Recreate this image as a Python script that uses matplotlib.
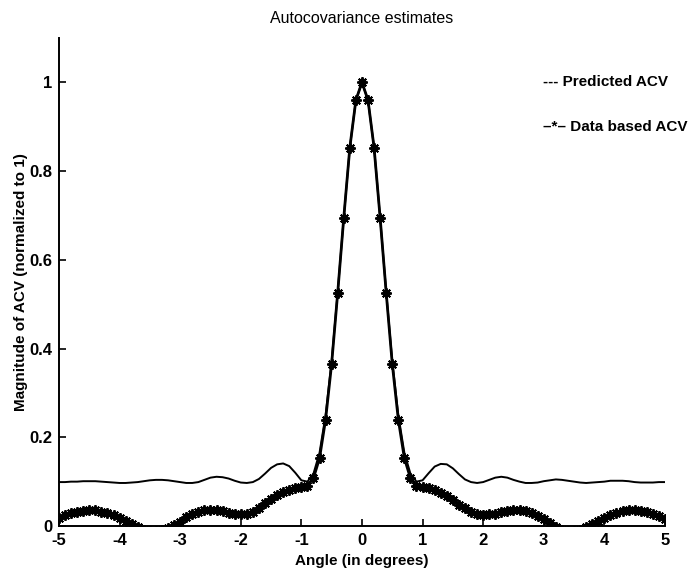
import numpy as np
import matplotlib.pyplot as plt

plt.rcParams['font.family'] = ['Liberation Sans', 'DejaVu Sans']

# angle grid (degrees), 0.1 deg spacing
angle = np.round(np.arange(-50, 51) * 0.1, 1)

predicted_acv = [
    0.099, 0.099, 0.100, 0.100, 0.101, 0.101, 0.101, 0.100, 0.099, 0.098,
    0.097, 0.097, 0.098, 0.099, 0.101, 0.103, 0.104, 0.104, 0.103, 0.101,
    0.099, 0.097, 0.097, 0.099, 0.104, 0.109, 0.111, 0.110, 0.107, 0.102,
    0.098, 0.097, 0.099, 0.106, 0.118, 0.131, 0.139, 0.141, 0.135, 0.120,
    0.103, 0.100, 0.118, 0.165, 0.250, 0.372, 0.528, 0.695, 0.853, 0.960,
    1.000,
    0.960, 0.853, 0.695, 0.528, 0.372, 0.250, 0.165, 0.118, 0.100, 0.103,
    0.119, 0.134, 0.140, 0.139, 0.130, 0.117, 0.105, 0.099, 0.097, 0.099,
    0.104, 0.109, 0.111, 0.109, 0.104, 0.100, 0.097, 0.097, 0.098, 0.101,
    0.103, 0.105, 0.104, 0.102, 0.100, 0.098, 0.097, 0.098, 0.099, 0.100,
    0.102, 0.102, 0.102, 0.101, 0.099, 0.098, 0.098, 0.098, 0.099, 0.099,
]

data_acv = [
    0.018, 0.024, 0.029, 0.032, 0.034, 0.035, 0.035, 0.032, 0.029, 0.024,
    0.018, 0.011, 0.004, -0.003, -0.009, -0.012, -0.012, -0.009, -0.004, 0.002,
    0.010, 0.020, 0.027, 0.032, 0.035, 0.036, 0.035, 0.033, 0.030, 0.028,
    0.026, 0.027, 0.031, 0.040, 0.051, 0.061, 0.070, 0.077, 0.082, 0.086,
    0.087, 0.090, 0.108, 0.153, 0.240, 0.366, 0.526, 0.695, 0.853, 0.960,
    1.000,
    0.960, 0.853, 0.695, 0.526, 0.366, 0.240, 0.153, 0.108, 0.090, 0.088,
    0.086, 0.082, 0.075, 0.067, 0.058, 0.048, 0.040, 0.032, 0.027, 0.025,
    0.026, 0.028, 0.031, 0.034, 0.035, 0.035, 0.033, 0.029, 0.023, 0.015,
    0.006, -0.003, -0.009, -0.012, -0.012, -0.008, -0.002, 0.005, 0.012, 0.019,
    0.025, 0.030, 0.033, 0.035, 0.035, 0.034, 0.031, 0.027, 0.022, 0.016,
]

xticks = [-5, -4, -3, -2, -1, 0, 1, 2, 3, 4, 5]
yticks = [0, 0.2, 0.4, 0.6, 0.8, 1]

fig = plt.figure(figsize=(6.97, 5.71), dpi=100)
ax = fig.add_axes([0.0846, 0.0788, 0.8694, 0.8546])

ax.plot(angle, predicted_acv, color='black', linewidth=1.4)
ax.plot(angle, data_acv, color='black', linewidth=2.0,
        marker=(8, 2, 0), markersize=7.5, markeredgewidth=1.4)

ax.set_xlim(-5, 5)
ax.set_ylim(0, 1.1)
ax.set_xticks(xticks)
ax.set_yticks(yticks)
ax.set_xticklabels([str(t) for t in xticks])
ax.set_yticklabels(['%g' % t for t in yticks])

for side in ['top', 'right']:
    ax.spines[side].set_visible(False)
for side in ['left', 'bottom']:
    ax.spines[side].set_linewidth(1.4)

ax.tick_params(direction='in', length=5, width=1.2, labelsize=12, pad=5)
for lbl in ax.get_xticklabels() + ax.get_yticklabels():
    lbl.set_fontweight('bold')

ax.set_title('Autocovariance estimates', fontsize=11.5, pad=11)
ax.set_xlabel('Angle (in degrees)', fontsize=11, fontweight='bold', labelpad=4)
ax.set_ylabel('Magnitude of ACV (normalized to 1)', fontsize=11,
              fontweight='bold', labelpad=1)

# hand-written key to the right of the peak
ax.text(0.799, 1.0, '--- Predicted ACV', transform=ax.get_yaxis_transform(),
        fontsize=11, fontweight='bold', va='center', ha='left')
ax.text(0.799, 0.9, '–*– Data based ACV', transform=ax.get_yaxis_transform(),
        fontsize=11, fontweight='bold', va='center', ha='left')

fig.savefig('out.png', dpi=100)
